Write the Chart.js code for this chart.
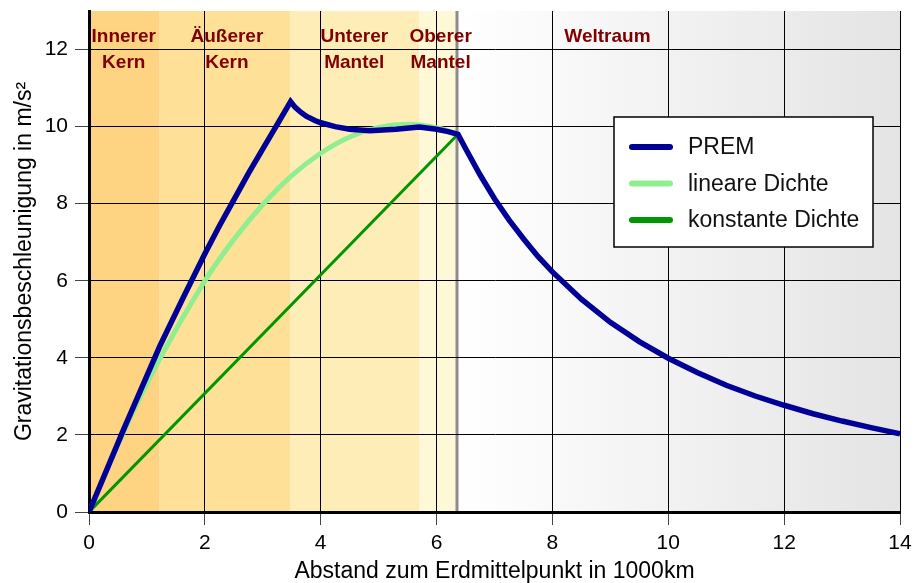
<!DOCTYPE html>
<html>
<head>
<meta charset="utf-8">
<script src="https://cdn.jsdelivr.net/npm/chart.js@4.4.0/dist/chart.umd.min.js"></script>
<style>
  html, body { margin: 0; padding: 0; background: #fff; }
  #wrap { width: 921px; height: 583px; }
</style>
</head>
<body>
<div id="wrap"><canvas id="gravity" width="921" height="583"></canvas></div>
<script>
// radius in 1000 km, g in m/s²
const premR = [0, 0.6, 1.22, 1.6, 2.0, 2.25, 2.5, 2.75, 3.0, 3.25, 3.48,
               3.56, 3.65, 3.75, 3.9, 4.0, 4.25, 4.5, 4.85, 5.3, 5.7, 6.0, 6.2, 6.37,
               6.5, 6.75, 7.0, 7.25, 7.5, 7.75, 8.0, 8.5, 9.0, 9.5, 10, 10.5, 11, 11.5, 12, 12.5, 13, 13.5, 14];
const premG = [0, 2.15, 4.3, 5.48, 6.7, 7.42, 8.1, 8.78, 9.42, 10.06, 10.65,
               10.5, 10.38, 10.27, 10.16, 10.1, 10.0, 9.93, 9.89, 9.93, 9.99, 9.93, 9.87, 9.8,
               9.43, 8.75, 8.13, 7.58, 7.09, 6.63, 6.23, 5.52, 4.92, 4.42, 3.99, 3.62, 3.29, 3.01, 2.77, 2.55, 2.36, 2.19, 2.03];

const linR = [0, 0.6, 1.22, 2.0, 2.5, 3.0, 3.5, 4.0, 4.5, 5.0, 5.5, 6.0, 6.37];
const linG = [0, 2.08, 3.97, 6.0, 7.07, 7.98, 8.73, 9.31, 9.73, 9.98, 10.06, 9.97, 9.8];

const constR = [0, 6.37];
const constG = [0, 9.8];

const xTicks = [0, 2, 4, 6, 8, 10, 12, 14];
const yTicks = [0, 2, 4, 6, 8, 10, 12];

// layer boundaries (1000 km) and their labels
const layerEdges = [0, 1.22, 3.48, 5.7, 6.37];
const layerNames = [['Innerer', 'Kern'], ['Äußerer', 'Kern'], ['Unterer', 'Mantel'], ['Oberer', 'Mantel'], ['Weltraum']];
const layerLabelX = [0.6, 2.38, 4.58, 6.07, 8.95];

const FONT = '"Liberation Sans", Arial, Helvetica, sans-serif';
const LAYER_COLORS = ['#fed381', '#fee197', '#ffedb8', '#fff8d6'];

const pts = (xs, ys) => xs.map((v, i) => ({ x: v, y: ys[i] }));

const layers = {
  id: 'layers',
  beforeDraw(chart) {
    const { ctx, chartArea: a, scales: { x } } = chart;
    ctx.save();
    for (let i = 0; i < layerEdges.length - 1; i++) {
      const x0 = x.getPixelForValue(layerEdges[i]);
      const x1 = x.getPixelForValue(layerEdges[i + 1]);
      ctx.fillStyle = LAYER_COLORS[i];
      ctx.fillRect(x0, a.top, x1 - x0, a.bottom - a.top);
    }
    const xs = x.getPixelForValue(layerEdges[layerEdges.length - 1]);
    const g = ctx.createLinearGradient(xs, 0, a.right, 0);
    g.addColorStop(0, '#ffffff');
    g.addColorStop(1, '#e4e4e4');
    ctx.fillStyle = g;
    ctx.fillRect(xs, a.top, a.right - xs, a.bottom - a.top);

    ctx.strokeStyle = '#8c8c8c';
    ctx.lineWidth = 3;
    ctx.beginPath();
    ctx.moveTo(xs - 1, a.top);
    ctx.lineTo(xs - 1, a.bottom);
    ctx.stroke();

    ctx.fillStyle = '#800000';
    ctx.font = 'bold 19px ' + FONT;
    ctx.textAlign = 'center';
    ctx.textBaseline = 'middle';
    layerNames.forEach((lines, i) => {
      const cx = x.getPixelForValue(layerLabelX[i]);
      lines.forEach((t, j) => ctx.fillText(t, cx, a.top + 26 + j * 26));
    });
    ctx.restore();
  }
};

const legendBox = {
  id: 'legendBox',
  afterDraw(chart) {
    const { ctx, chartArea: a } = chart;
    const L = a.right - 286, T = a.top + 106, W = 259, H = 130;
    ctx.save();
    ctx.fillStyle = '#fff';
    ctx.fillRect(L, T, W, H);
    ctx.strokeStyle = '#000';
    ctx.lineWidth = 1.5;
    ctx.strokeRect(L, T, W, H);
    ctx.font = '23px ' + FONT;
    ctx.textAlign = 'left';
    ctx.textBaseline = 'middle';
    chart.data.datasets.forEach((ds, i) => {
      const cy = T + 30 + i * 36.5;
      ctx.strokeStyle = ds.borderColor;
      ctx.lineWidth = 6;
      ctx.lineCap = 'round';
      ctx.beginPath();
      ctx.moveTo(L + 18, cy);
      ctx.lineTo(L + 56, cy);
      ctx.stroke();
      ctx.fillStyle = '#111';
      ctx.fillText(ds.label, L + 74, cy + 1);
    });
    ctx.restore();
  }
};

new Chart(document.getElementById('gravity'), {
  type: 'scatter',
  data: {
    datasets: [
      { label: 'PREM', data: pts(premR, premG), showLine: true, borderColor: '#000096',
        borderWidth: 5.5, pointRadius: 0, tension: 0 },
      { label: 'lineare Dichte', data: pts(linR, linG), showLine: true, borderColor: '#90ee90',
        borderWidth: 5, pointRadius: 0, tension: 0.4 },
      { label: 'konstante Dichte', data: pts(constR, constG), showLine: true, borderColor: '#009600',
        borderWidth: 3, pointRadius: 0, tension: 0 }
    ]
  },
  options: {
    responsive: false,
    devicePixelRatio: 1,
    animation: false,
    layout: { padding: { left: 0, right: 21, top: 11, bottom: 0 } },
    plugins: { legend: { display: false }, tooltip: { enabled: false } },
    scales: {
      x: {
        type: 'linear', min: 0, max: 14,
        afterBuildTicks: s => { s.ticks = xTicks.map(v => ({ value: v })); },
        afterFit: s => { s.height = 71; s.paddingLeft = 0; s.paddingRight = 0; },
        grid: { color: '#000', lineWidth: 1, tickLength: 13, tickColor: '#444' },
        border: { color: '#000', width: 3 },
        ticks: { color: '#000', font: { size: 21, family: FONT }, padding: 6, maxRotation: 0, autoSkip: false },
        title: { display: true, text: 'Abstand zum Erdmittelpunkt in 1000km', color: '#000',
                 font: { size: 23, family: FONT, lineHeight: 1 }, padding: { top: 0, bottom: 0 } }
      },
      y: {
        type: 'linear', min: 0, max: 13,
        afterBuildTicks: s => { s.ticks = yTicks.map(v => ({ value: v })); },
        afterFit: s => { s.width = 89; s.paddingTop = 0; s.paddingBottom = 0; },
        grid: { color: '#000', lineWidth: 1, tickLength: 14, tickColor: '#444' },
        border: { color: '#000', width: 3 },
        ticks: { color: '#000', font: { size: 21, family: FONT }, padding: 7, autoSkip: false },
        title: { display: true, text: 'Gravitationsbeschleunigung in m/s²', color: '#000',
                 font: { size: 23, family: FONT, lineHeight: 1 }, padding: { top: 13, bottom: 0 } }
      }
    }
  },
  plugins: [layers, legendBox]
});
</script>
</body>
</html>
